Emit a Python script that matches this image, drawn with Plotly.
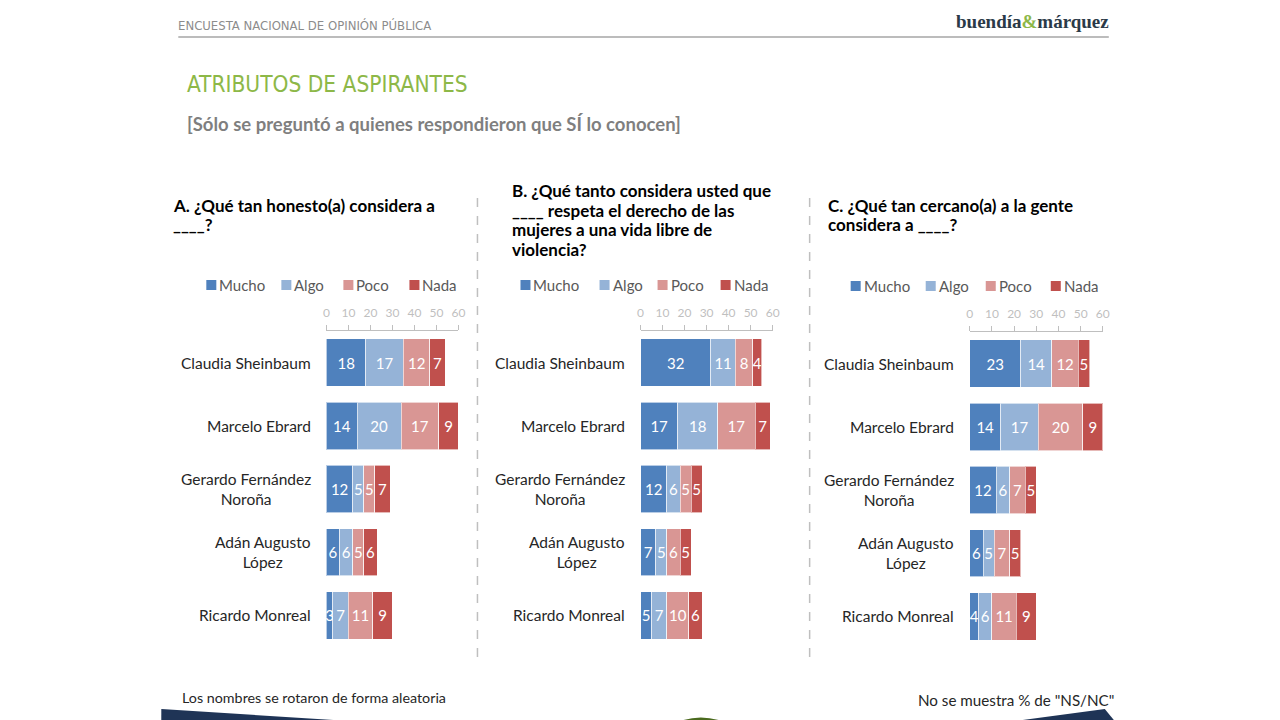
import plotly.graph_objects as go

W, H = 1280, 720

candidates = ["Claudia Sheinbaum", "Marcelo Ebrard", "Gerardo Fernández<br>Noroña",
              "Adán Augusto<br>López", "Ricardo Monreal"]
levels = ["Mucho", "Algo", "Poco", "Nada"]
colors = ["#4f81bd", "#95b3d7", "#d99694", "#c0504d"]

# Panel A: honesto
a_mucho = [18, 14, 12, 6, 3]
a_algo = [17, 20, 5, 6, 7]
a_poco = [12, 17, 5, 5, 11]
a_nada = [7, 9, 7, 6, 9]
# Panel B: respeta derecho de las mujeres
b_mucho = [32, 17, 12, 7, 5]
b_algo = [11, 18, 6, 5, 7]
b_poco = [8, 17, 5, 6, 10]
b_nada = [4, 7, 5, 5, 6]
# Panel C: cercano a la gente
c_mucho = [23, 14, 12, 6, 4]
c_algo = [14, 17, 6, 5, 6]
c_poco = [12, 20, 7, 7, 11]
c_nada = [5, 9, 5, 5, 9]

x_ticks = [0, 10, 20, 30, 40, 50, 60]

title_a = ["A. ¿Qué tan honesto(a) considera a", "____?"]
title_b = ["B. ¿Qué tanto considera usted que", "____ respeta el derecho de las",
           "mujeres a una vida libre de", "violencia?"]
title_c = ["C. ¿Qué tan cercano(a) a la gente", "considera a ____?"]

FONT = "Lato"
COND = "DejaVu Sans Condensed, Roboto Condensed, Liberation Sans Narrow, Roboto"

panels = [
    dict(data=[a_mucho, a_algo, a_poco, a_nada], x0=326, x1=458, y0=331, y1=647,
         lab_r=312.5, title=title_a, tx=171, ty=205, leg_y=285, leg_x=[206, 281, 343, 409]),
    dict(data=[b_mucho, b_algo, b_poco, b_nada], x0=640, x1=772, y0=331, y1=647,
         lab_r=626, title=title_b, tx=510, ty=191, leg_y=285, leg_x=[520, 599, 657, 720]),
    dict(data=[c_mucho, c_algo, c_poco, c_nada], x0=969, x1=1102, y0=332, y1=648,
         lab_r=955, title=title_c, tx=825, ty=205, leg_y=286, leg_x=[850, 925, 985, 1050]),
]

def px(x):
    # compensate the slight horizontal scaling observed in the renderer
    return (x - 2.8) / 1269.3

def py(y):
    return 1 - y / H

fig = go.Figure()
annotations = []
shapes = []

for i, p in enumerate(panels):
    sfx = "" if i == 0 else str(i + 1)
    xa, ya = "x" + sfx, "y" + sfx
    for lvl, col, vals in zip(levels, colors, p["data"]):
        fig.add_trace(go.Bar(
            x=vals, y=candidates, orientation="h", name=lvl,
            marker=dict(color=col, line=dict(color="rgba(255,255,255,0.6)", width=1)),
            text=vals, texttemplate="%{x}", textposition="inside",
            insidetextanchor="middle",
            textfont=dict(color="white", size=15, family=FONT),
            xaxis=xa, yaxis=ya, showlegend=False, cliponaxis=False,
        ))
    fig.layout["xaxis" + sfx] = dict(
        domain=[px(p["x0"]), px(p["x1"])], range=[0, 60], side="top",
        tickvals=x_ticks, showgrid=False, zeroline=False,
        showline=True, linecolor="#bfbfbf", linewidth=1,
        ticks="outside", ticklen=5, tickcolor="#bfbfbf",
        ticklabelstandoff=3,
        tickfont=dict(size=12, color="#bfbfbf", family=FONT),
        anchor=ya, fixedrange=True,
    )
    fig.layout["yaxis" + sfx] = dict(
        domain=[py(p["y1"]), py(p["y0"])], autorange="reversed",
        showticklabels=False, showgrid=False, zeroline=False, showline=False,
        anchor=xa, type="category", fixedrange=True,
    )
    for c in candidates:
        annotations.append(dict(
            x=px(p["lab_r"]), xref="paper", y=c, yref=ya, text=c,
            xanchor="right", yanchor="middle", align="center", showarrow=False,
            font=dict(size=15.5, color="#262626", family=FONT),
        ))
    for k, line in enumerate(p["title"]):
        annotations.append(dict(
            x=px(p["tx"]), y=py(p["ty"] + 19.5 * k), xref="paper", yref="paper",
            text="<b>" + line + "</b>",
            xanchor="left", yanchor="middle", align="left", showarrow=False,
            font=dict(size=17, color="#000000", family=FONT),
        ))
    for lvl, col, lx in zip(levels, colors, p["leg_x"]):
        shapes.append(dict(type="rect", xref="paper", yref="paper",
                           x0=px(lx), x1=px(lx + 10), y0=py(p["leg_y"] + 5), y1=py(p["leg_y"] - 5),
                           fillcolor=col, line=dict(width=0)))
        annotations.append(dict(
            x=px(lx + 11), y=py(p["leg_y"]), xref="paper", yref="paper", text=lvl,
            xanchor="left", yanchor="middle", showarrow=False,
            font=dict(size=15, color="#595959", family=FONT),
        ))

# separators
for sx in [477, 809]:
    shapes.append(dict(type="line", xref="paper", yref="paper", x0=px(sx), x1=px(sx),
                       y0=py(198), y1=py(660), line=dict(color="#bfbfbf", width=1.5, dash="dash")))

# header line
shapes.append(dict(type="line", xref="paper", yref="paper", x0=px(178), x1=px(1108),
                   y0=py(37), y1=py(37), line=dict(color="#a6a6a6", width=1.5)))

# bottom decorative band
shapes.append(dict(type="path", xref="paper", yref="paper",
                   path=f"M {px(161)},{py(709)} L {px(333)},{py(720)} L {px(161)},{py(720)} Z",
                   fillcolor="#1f3456", line=dict(width=0)))
shapes.append(dict(type="path", xref="paper", yref="paper",
                   path=f"M {px(1104)},{py(709)} L {px(1113)},{py(720)} L {px(1022)},{py(720)} Z",
                   fillcolor="#1f3456", line=dict(width=0)))
shapes.append(dict(type="path", xref="paper", yref="paper",
                   path=f"M {px(683)},{py(720)} Q {px(700)},{py(715)} {px(718)},{py(720)} Z",
                   fillcolor="#4a6a1e", line=dict(width=0)))

annotations += [
    dict(x=px(176), y=py(26), xref="paper", yref="paper", text="ENCUESTA NACIONAL DE OPINIÓN PÚBLICA",
         xanchor="left", yanchor="middle", showarrow=False,
         font=dict(size=13, color="#8c8c8c", family=COND)),
    dict(x=px(1110), y=py(21), xref="paper", yref="paper",
         text="<b>buendía<span style='color:#8db848'>&</span>márquez</b>",
         xanchor="right", yanchor="middle", showarrow=False,
         font=dict(size=19, color="#2b3a48", family="Liberation Serif")),
    dict(x=px(185), y=py(84), xref="paper", yref="paper", text="ATRIBUTOS DE ASPIRANTES",
         xanchor="left", yanchor="middle", showarrow=False,
         font=dict(size=22.5, color="#8db848", family=COND)),
    dict(x=px(185), y=py(124), xref="paper", yref="paper",
         text="<b>[Sólo se preguntó a quienes respondieron que SÍ lo conocen]</b>",
         xanchor="left", yanchor="middle", showarrow=False,
         font=dict(size=18.5, color="#7f7f7f", family=FONT)),
    dict(x=px(180), y=py(697), xref="paper", yref="paper", text="Los nombres se rotaron de forma aleatoria",
         xanchor="left", yanchor="middle", showarrow=False,
         font=dict(size=14.3, color="#262626", family=FONT)),
    dict(x=px(1115), y=py(700), xref="paper", yref="paper", text="No se muestra % de \"NS/NC\"",
         xanchor="right", yanchor="middle", showarrow=False,
         font=dict(size=15.2, color="#262626", family=FONT)),
]

fig.update_layout(
    width=W, height=H, margin=dict(l=0, r=0, t=0, b=0),
    paper_bgcolor="white", plot_bgcolor="white",
    barmode="stack", bargap=0.25,
    uniformtext=dict(minsize=15, mode="show"),
    annotations=annotations, shapes=shapes, showlegend=False,
    font=dict(family=FONT),
)

fig.write_html("out.html", config={"displayModeBar": False})
